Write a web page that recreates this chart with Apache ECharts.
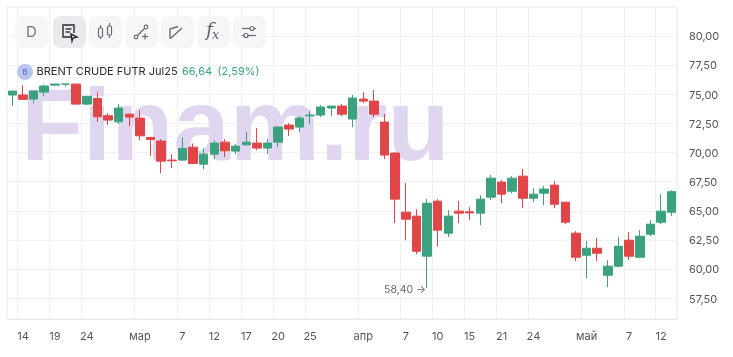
<!DOCTYPE html>
<html><head><meta charset="utf-8">
<style>html,body{margin:0;padding:0;background:#fff}#c{width:733px;height:357px}</style>
<script src="https://cdn.jsdelivr.net/npm/echarts@6/dist/echarts.min.js"></script>
</head><body><div id="c"></div>
<script>
const categories = ['13','14','17','18','19','20','21','24','25','26','27','28','мар','4','5','6','7','10','11','12','13','14','17','18','19','20','21','24','25','26','27','28','31','апр','2','3','4','7','8','9','10','11','14','15','16','17','21','22','23','24','25','28','29','30','май','2','5','6','7','8','9','12','13'];
const labeledIndexes = [1,4,7,12,16,19,22,25,28,33,37,40,43,46,49,54,58,61];
const yTicks = [57.5,60,62.5,65,67.5,70,72.5,75,77.5,80];
const opens  = [74.93,74.93,74.58,75.18,75.78,75.87,75.87,74.15,74.64,73.15,72.63,73.29,72.95,71.29,70.98,69.35,69.35,70.46,69.00,69.86,70.89,70.12,70.66,70.81,70.38,70.89,72.35,72.18,73.15,73.21,73.81,73.98,72.87,74.58,74.41,72.61,69.95,64.88,64.54,61.11,65.83,63.08,64.97,64.91,64.80,66.17,67.46,66.68,67.97,66.08,66.51,67.20,65.74,63.08,61.19,61.79,59.47,60.25,62.48,61.02,62.99,64.02,64.88];
const closes = [75.27,74.56,75.27,75.70,75.87,75.87,74.15,74.82,73.07,72.78,73.81,73.04,71.43,71.12,69.26,69.29,70.35,69.06,69.86,70.81,70.14,70.55,70.89,70.38,70.81,72.18,72.01,72.95,73.21,73.90,73.98,73.29,74.67,74.41,73.29,69.78,66.00,64.28,61.53,65.65,63.34,64.54,64.80,64.82,66.00,67.80,66.43,67.80,66.08,66.43,66.86,65.57,64.02,61.02,61.79,61.36,60.25,61.96,61.11,62.82,63.85,64.97,66.64];
const lows   = [73.98,74.50,74.21,74.84,75.70,75.65,74.15,74.04,72.63,72.35,72.44,72.26,71.06,69.69,68.23,68.66,69.29,69.00,68.57,69.43,69.60,69.86,70.61,70.20,69.86,70.46,71.41,71.75,72.44,73.04,73.12,73.12,72.18,74.24,73.04,69.43,63.96,62.48,61.28,58.40,61.96,62.74,63.96,64.20,63.77,65.91,65.65,66.51,65.23,65.74,65.48,65.23,63.85,60.68,59.22,60.68,58.44,60.16,60.76,60.93,62.82,63.85,64.54];
const highs  = [75.27,75.78,75.27,75.81,75.87,75.87,75.87,74.82,75.15,73.35,74.15,73.35,73.64,71.35,71.15,69.86,71.29,70.78,70.35,71.06,71.15,70.75,71.75,72.09,71.15,72.26,72.50,73.12,73.55,74.07,73.98,74.15,74.93,75.18,75.35,73.29,70.03,67.40,65.14,66.00,66.00,65.05,65.83,65.31,66.34,68.06,67.63,67.97,68.57,66.94,67.11,67.54,65.74,63.25,62.39,62.65,60.76,62.74,63.17,63.34,64.20,66.43,66.77];
const minPriceLabel = '58,40 →';
const minPrice = 58.40, minIndex = 39;
const titleText = 'BRENT CRUDE FUTR Jul25', lastPrice = '66,64', changeText = '(2,59%)';

const FONT = 'Inter, "Noto Sans", sans-serif';
const GREEN = '#3BA17F', RED = '#E04548', BTN = '#F6F6F8', BTN_ON = '#EAEAEE', ICON = '#6b6b70';
const candle = categories.map((_, i) => [opens[i], closes[i], lows[i], highs[i]]);
const fmt = v => v.toFixed(2).replace('.', ',');

const btn = (x, on) => ({type:'rect', z:5, shape:{x:x, y:16, width:33, height:32, r:8}, style:{fill:on?BTN_ON:BTN}});
const ln = {stroke:ICON, fill:'none', lineWidth:1.2};
const dark = {stroke:'#2a2a2e', fill:'none', lineWidth:1.4};
const graphics = [
  {type:'text', z:1, left:21, top:81, style:{text:'Finam.ru', font:'bold 101.5px "Liberation Sans", Arial, sans-serif', fill:'#E1D6F0'}},
  btn(15,false), btn(53,true), btn(89,false), btn(125,false), btn(161,false), btn(197,false), btn(233,false),
  {type:'text', z:6, x:31.5, y:32, style:{text:'D', font:'15px '+FONT, fill:'#77777c', align:'center', verticalAlign:'middle'}},
  {type:'polyline', z:6, shape:{points:[[71.5,37],[63,37],[63,25],[74,25],[74,33]]}, style:dark},
  {type:'polyline', z:6, shape:{points:[[65.5,29],[71.5,29]]}, style:dark},
  {type:'polyline', z:6, shape:{points:[[65.5,32],[70,32]]}, style:dark},
  {type:'polygon', z:6, shape:{points:[[71,34],[77,37],[73,38],[72,41]]}, style:dark},
  {type:'rect', z:6, shape:{x:98.5,y:28,width:4,height:9,r:1}, style:ln},
  {type:'polyline', z:6, shape:{points:[[100.5,25],[100.5,28]]}, style:ln},
  {type:'polyline', z:6, shape:{points:[[100.5,37],[100.5,39]]}, style:ln},
  {type:'rect', z:6, shape:{x:107.5,y:26,width:4,height:9,r:1}, style:ln},
  {type:'polyline', z:6, shape:{points:[[109.5,23],[109.5,26]]}, style:ln},
  {type:'polyline', z:6, shape:{points:[[109.5,35],[109.5,38]]}, style:ln},
  {type:'circle', z:6, shape:{cx:136,cy:37,r:1.8}, style:ln},
  {type:'circle', z:6, shape:{cx:146,cy:27,r:1.8}, style:ln},
  {type:'polyline', z:6, shape:{points:[[137.5,35.5],[144.5,28.5]]}, style:ln},
  {type:'polyline', z:6, shape:{points:[[142,36.5],[148,36.5]]}, style:ln},
  {type:'polyline', z:6, shape:{points:[[145,33.5],[145,39.5]]}, style:ln},
  {type:'polyline', z:6, shape:{points:[[178,26.5],[170,29],[170,38],[171,38],[182,28]]}, style:{stroke:ICON, fill:'none', lineWidth:1.4}},
  {type:'text', z:6, x:213, y:31, style:{text:'f', font:'italic 19px "DejaVu Serif", serif', fill:'#5f5f64', align:'right', verticalAlign:'middle'}},
  {type:'text', z:6, x:212, y:36, style:{text:'x', font:'italic 13px "DejaVu Serif", serif', fill:'#5f5f64', align:'left', verticalAlign:'middle'}},
  {type:'polyline', z:6, shape:{points:[[242,28.5],[256,28.5]]}, style:ln},
  {type:'circle', z:6, shape:{cx:252,cy:28.5,r:2}, style:{stroke:ICON, fill:BTN, lineWidth:1.2}},
  {type:'polyline', z:6, shape:{points:[[242,35.5],[256,35.5]]}, style:ln},
  {type:'circle', z:6, shape:{cx:246,cy:35.5,r:2}, style:{stroke:ICON, fill:BTN, lineWidth:1.2}},
  {type:'circle', z:6, shape:{cx:25,cy:72,r:8}, style:{fill:'#BAC4EE'}},
  {type:'text', z:6, x:25, y:72.5, style:{text:'B', font:'8px '+FONT, fill:'#5468C8', align:'center', verticalAlign:'middle'}},
  {type:'text', z:6, x:36.5, y:72, style:{text:titleText, font:'11px '+FONT, fill:'#2b2b30', verticalAlign:'middle'}},
  {type:'text', z:6, x:182, y:72, style:{text:lastPrice, font:'11px '+FONT, fill:GREEN, verticalAlign:'middle'}},
  {type:'text', z:6, x:217.5, y:72, style:{text:changeText, font:'11px '+FONT, fill:GREEN, verticalAlign:'middle'}}
];

const chart = echarts.init(document.getElementById('c'), null, {renderer:'canvas'});
chart.setOption({
  animation:false,
  backgroundColor:'#fff',
  graphic:graphics,
  grid:{left:7, right:56, top:7, bottom:38, show:true, borderColor:'#E8E8EC', borderWidth:1, backgroundColor:'transparent'},
  xAxis:{
    type:'category', data:categories, boundaryGap:true,
    axisLine:{show:true, lineStyle:{color:'#E8E8EC'}}, axisTick:{show:false},
    axisLabel:{interval:i=>labeledIndexes.includes(i), color:'#555', fontSize:11, fontFamily:FONT, margin:12, hideOverlap:false},
    splitLine:{show:true, interval:i=>labeledIndexes.includes(i), lineStyle:{color:'#F0F0F3', width:1}}
  },
  yAxis:{
    type:'value', position:'right', min:55.72, max:82.48, scale:true,
    axisLine:{show:false}, axisTick:{show:false, customValues:yTicks},
    axisLabel:{customValues:yTicks, formatter:fmt, color:'#555', fontSize:11, fontFamily:FONT, margin:12, verticalAlign:'top', lineHeight:2},
    splitLine:{show:true, lineStyle:{color:'#F0F0F3', width:1}}
  },
  series:[{
    type:'candlestick', data:candle, barWidth:9, z:2, clip:true,
    itemStyle:{color:GREEN, color0:RED, borderColor:GREEN, borderColor0:RED, borderWidth:1},
    markPoint:{symbol:'circle', symbolSize:0, silent:true,
      data:[{coord:[minIndex, minPrice], value:minPrice}],
      label:{show:true, formatter:minPriceLabel, position:'left', distance:0, offset:[-1,2], color:'#666', fontSize:10.5, fontFamily:FONT}}
  }]
});
</script></body></html>
